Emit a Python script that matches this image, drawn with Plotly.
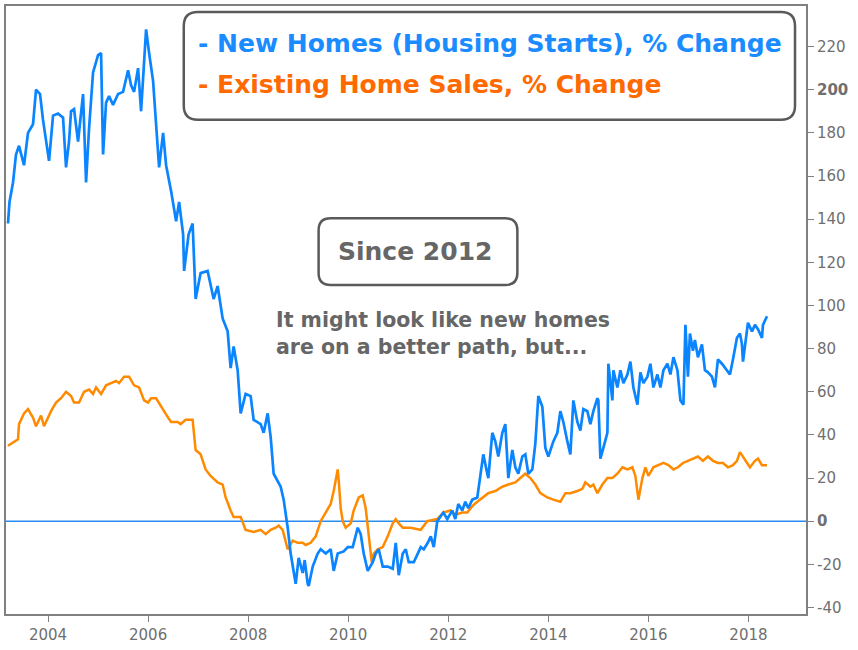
import plotly.graph_objects as go

# ---- data (x = decimal year) ----
new_homes_t = [2003.20, 2003.23, 2003.30, 2003.36, 2003.42, 2003.52, 2003.60, 2003.70, 2003.76, 2003.84,
               2003.90, 2004.00, 2004.02, 2004.10, 2004.20, 2004.30, 2004.36, 2004.42, 2004.46, 2004.52,
               2004.60, 2004.70, 2004.76, 2004.82, 2004.90, 2005.00, 2005.06, 2005.10, 2005.16, 2005.22,
               2005.30, 2005.40, 2005.50, 2005.60, 2005.66, 2005.72, 2005.80, 2005.86, 2005.92, 2005.96,
               2006.02, 2006.10, 2006.16, 2006.22, 2006.30, 2006.36, 2006.46, 2006.56, 2006.62, 2006.70,
               2006.72, 2006.81, 2006.89, 2006.95, 2007.05, 2007.19, 2007.31, 2007.39, 2007.49, 2007.59,
               2007.65, 2007.71, 2007.79, 2007.85, 2007.95, 2008.05, 2008.11, 2008.25, 2008.31, 2008.39,
               2008.45, 2008.51, 2008.65, 2008.71, 2008.79, 2008.85, 2008.95, 2009.01, 2009.09, 2009.13,
               2009.19, 2009.21, 2009.29, 2009.39, 2009.45, 2009.55, 2009.65, 2009.71, 2009.79, 2009.91,
               2009.99, 2010.09, 2010.19, 2010.25, 2010.31, 2010.39, 2010.49, 2010.55, 2010.61, 2010.69,
               2010.79, 2010.89, 2010.95, 2011.01, 2011.09, 2011.15, 2011.21, 2011.31, 2011.39, 2011.45,
               2011.51, 2011.59, 2011.65, 2011.71, 2011.78, 2011.84, 2011.90, 2011.98, 2012.08, 2012.14,
               2012.20, 2012.28, 2012.34, 2012.40, 2012.48, 2012.58, 2012.64, 2012.70, 2012.78, 2012.80,
               2012.88, 2012.94, 2013.00, 2013.08, 2013.14, 2013.20, 2013.28, 2013.34, 2013.40, 2013.48,
               2013.54, 2013.60, 2013.68, 2013.74, 2013.80, 2013.88, 2013.94, 2014.00, 2014.10, 2014.18,
               2014.24, 2014.30, 2014.38, 2014.44, 2014.50, 2014.58, 2014.64, 2014.70, 2014.78, 2014.84,
               2014.90, 2014.98, 2015.00, 2015.04, 2015.10, 2015.18, 2015.20, 2015.28, 2015.30, 2015.38,
               2015.44, 2015.50, 2015.58, 2015.64, 2015.70, 2015.78, 2015.84, 2015.90, 2015.98, 2016.04,
               2016.10, 2016.18, 2016.24, 2016.30, 2016.38, 2016.44, 2016.50, 2016.58, 2016.64, 2016.70,
               2016.74, 2016.79, 2016.83, 2016.89, 2016.93, 2016.99, 2017.07, 2017.13, 2017.19, 2017.27,
               2017.33, 2017.39, 2017.47, 2017.53, 2017.63, 2017.69, 2017.77, 2017.83, 2017.87, 2017.89,
               2017.97, 2017.99, 2018.07, 2018.13, 2018.19, 2018.27, 2018.29, 2018.37]
new_homes = [138, 148, 157, 170, 174, 165, 180, 184, 200, 198,
             186, 171, 167, 188, 189, 187, 164, 176, 190, 191,
             176, 198, 157, 182, 208, 216, 217, 170, 194, 197,
             193, 198, 199, 209, 202, 199, 210, 190, 212, 228,
             217, 204, 184, 164, 180, 165, 153, 139, 148, 133,
             116, 133, 138, 103, 115, 116, 103, 109, 94, 88,
             71, 81, 70, 50, 59, 58, 47, 45, 41, 50,
             39, 22, 16, 10, -3, -15, -29, -17, -24, -18,
             -29, -30, -21, -15, -13, -15, -13, -23, -15, -14,
             -12, -12, -3, -6, -15, -23, -19, -15, -13, -21,
             -21, -22, -10, -25, -15, -13, -19, -19, -15, -12,
             -13, -10, -7, -12, 0, 2, 4, 1, 5, 1,
             8, 5, 9, 6, 10, 11, 22, 31, 22, 20,
             41, 37, 30, 41, 45, 20, 33, 25, 22, 30,
             31, 22, 24, 36, 58, 53, 34, 30, 37, 41,
             51, 46, 37, 31, 56, 46, 42, 52, 51, 45,
             51, 57, 56, 29, 34, 41, 73, 56, 70, 62,
             70, 64, 68, 74, 62, 54, 69, 64, 67, 73,
             62, 68, 62, 70, 73, 68, 76, 70, 56, 54,
             91, 67, 87, 79, 84, 76, 82, 70, 69, 67,
             62, 75, 73, 71, 68, 75, 85, 87, 82, 74,
             88, 92, 88, 91, 89, 85, 91, 95]

existing_t = [2003.20, 2003.32, 2003.40, 2003.42, 2003.52, 2003.60, 2003.70, 2003.76, 2003.86, 2003.92,
              2004.06, 2004.16, 2004.26, 2004.36, 2004.46, 2004.52, 2004.62, 2004.72, 2004.82, 2004.90,
              2004.96, 2005.06, 2005.16, 2005.26, 2005.36, 2005.42, 2005.52, 2005.62, 2005.72, 2005.82,
              2005.92, 2006.00, 2006.06, 2006.16, 2006.26, 2006.40, 2006.46, 2006.59, 2006.65, 2006.75,
              2006.89, 2006.95, 2007.05, 2007.15, 2007.25, 2007.39, 2007.49, 2007.55, 2007.65, 2007.71,
              2007.85, 2007.95, 2008.11, 2008.25, 2008.35, 2008.45, 2008.55, 2008.61, 2008.69, 2008.75,
              2008.79, 2008.89, 2008.99, 2009.09, 2009.15, 2009.25, 2009.35, 2009.45, 2009.55, 2009.65,
              2009.71, 2009.79, 2009.81, 2009.85, 2009.89, 2009.95, 2010.05, 2010.11, 2010.21, 2010.29,
              2010.35, 2010.41, 2010.47, 2010.51, 2010.59, 2010.69, 2010.79, 2010.89, 2010.95, 2011.01,
              2011.09, 2011.25, 2011.45, 2011.58, 2011.78, 2011.90, 2012.04, 2012.14, 2012.28, 2012.38,
              2012.48, 2012.58, 2012.70, 2012.80, 2012.94, 2013.08, 2013.20, 2013.34, 2013.44, 2013.54,
              2013.64, 2013.74, 2013.84, 2013.98, 2014.10, 2014.24, 2014.34, 2014.44, 2014.58, 2014.68,
              2014.74, 2014.84, 2014.90, 2014.98, 2015.08, 2015.18, 2015.28, 2015.38, 2015.48, 2015.58,
              2015.68, 2015.74, 2015.80, 2015.88, 2015.94, 2016.00, 2016.10, 2016.20, 2016.30, 2016.40,
              2016.50, 2016.59, 2016.69, 2016.79, 2016.89, 2016.99, 2017.09, 2017.19, 2017.29, 2017.39,
              2017.49, 2017.59, 2017.69, 2017.77, 2017.83, 2017.89, 2017.97, 2018.03, 2018.13, 2018.19,
              2018.27, 2018.37]
existing = [35, 37, 38, 45, 50, 52, 48, 44, 49, 44,
            51, 55, 57, 60, 58, 55, 55, 60, 61, 59,
            62, 59, 63, 64, 65, 64, 67, 67, 63, 62,
            56, 55, 57, 57, 53, 48, 46, 46, 45, 47,
            47, 33, 31, 24, 21, 18, 17, 11, 5, 2,
            2, -4, -5, -4, -6, -4, -3, -2, -4, -9,
            -13, -9, -10, -10, -11, -10, -7, 0, 4, 8,
            14, 24, 19, 6, 0, -3, -1, 5, 11, 12,
            6, -6, -19, -15, -13, -12, -7, -1, 1, -1,
            -3, -3, -4, 0, 1, 4, 5, 3, 4, 4,
            7, 9, 11, 13, 14, 16, 17, 18, 20, 22,
            20, 17, 13, 11, 10, 9, 13, 13, 14, 15,
            18, 16, 17, 13, 17, 20, 20, 22, 25, 24,
            25, 21, 10, 20, 25, 21, 25, 26, 27, 26,
            24, 25, 27, 28, 29, 30, 28, 30, 28, 27,
            27, 25, 26, 28, 32, 30, 27, 25, 28, 29,
            26, 26]

x_tick_vals = [2004, 2006, 2008, 2010, 2012, 2014, 2016, 2018]
y_tick_vals = [-40, -20, 0, 20, 40, 60, 80, 100, 120, 140, 160, 180, 200, 220]
y_tick_text = [("<b>%d</b>" % v) if v in (0, 200) else str(v) for v in y_tick_vals]

BLUE = "#0a84ff"
ORANGE = "#ff8a00"
GRAY = "#6f6f6f"
FONT = "DejaVu Sans"

W, H = 858, 650
ML, MR, MT, MB = 5, 52, 4, 36
PW, PH = W - ML - MR, H - MT - MB


def px(x):
    return (x - ML) / PW


def py(y):
    return 1 - (y - MT) / PH


def rounded_rect(x0, y0, x1, y1, r):
    rx, ry = r / PW, r / PH
    X0, X1 = px(x0), px(x1)
    Y0, Y1 = py(y0), py(y1)  # Y0 top, Y1 bottom
    return (f"M {X0+rx},{Y0} L {X1-rx},{Y0} Q {X1},{Y0} {X1},{Y0-ry} "
            f"L {X1},{Y1+ry} Q {X1},{Y1} {X1-rx},{Y1} "
            f"L {X0+rx},{Y1} Q {X0},{Y1} {X0},{Y1+ry} "
            f"L {X0},{Y0-ry} Q {X0},{Y0} {X0+rx},{Y0} Z")


fig = go.Figure()
fig.add_trace(go.Scatter(x=existing_t, y=existing, mode="lines",
                         line=dict(color=ORANGE, width=2.5), showlegend=False))
fig.add_trace(go.Scatter(x=new_homes_t, y=new_homes, mode="lines",
                         line=dict(color=BLUE, width=2.7), showlegend=False))

shapes = [
    dict(type="line", xref="paper", yref="y", x0=0, x1=1, y0=0, y1=0,
         line=dict(color="#2a8cf0", width=1.5), layer="below"),
    dict(type="path", xref="paper", yref="paper", path=rounded_rect(183, 10, 795, 118, 14),
         line=dict(color="#5a5a5a", width=2.5), fillcolor="white"),
    dict(type="path", xref="paper", yref="paper", path=rounded_rect(318, 217, 517, 284, 12),
         line=dict(color="#5a5a5a", width=2.5), fillcolor="white"),
]

annotations = [
    dict(xref="paper", yref="paper", x=px(195), y=py(42), xanchor="left", yanchor="middle",
         text="<b>- New Homes (Housing Starts), % Change</b>", showarrow=False,
         font=dict(family=FONT, size=25, color="#1a8cff")),
    dict(xref="paper", yref="paper", x=px(195), y=py(83), xanchor="left", yanchor="middle",
         text="<b>- Existing Home Sales, % Change</b>", showarrow=False,
         font=dict(family=FONT, size=25, color="#ff6a00")),
    dict(xref="paper", yref="paper", x=px(415), y=py(250), xanchor="center", yanchor="middle",
         text="<b>Since 2012</b>", showarrow=False,
         font=dict(family=FONT, size=25, color="#666666")),
    dict(xref="paper", yref="paper", x=px(273), y=py(333), xanchor="left", yanchor="middle",
         text="<b>It might look like new homes<br>are on a better path, but...</b>", showarrow=False,
         align="left", font=dict(family=FONT, size=20.5, color="#666666")),
]

fig.update_layout(
    width=W, height=H,
    margin=dict(l=ML, r=MR, t=MT, b=MB),
    paper_bgcolor="white", plot_bgcolor="white",
    shapes=shapes, annotations=annotations,
    showlegend=False,
    xaxis=dict(range=[2003.16, 2019.15], tickmode="array", tickvals=x_tick_vals,
               ticktext=[str(v) for v in x_tick_vals],
               showgrid=False, zeroline=False, showline=True, mirror=True,
               linecolor="#808080", linewidth=2, ticks="outside", ticklen=6,
               tickcolor="#808080", tickfont=dict(family=FONT, size=15, color=GRAY)),
    yaxis=dict(range=[-43, 238.8], side="right", tickmode="array", tickvals=y_tick_vals,
               ticktext=y_tick_text, showgrid=False, zeroline=False, showline=True,
               mirror=True, linecolor="#808080", linewidth=2, ticks="outside", ticklen=6,
               tickcolor="#808080", tickfont=dict(family=FONT, size=15, color=GRAY)),
)

fig.write_html("out.html")
